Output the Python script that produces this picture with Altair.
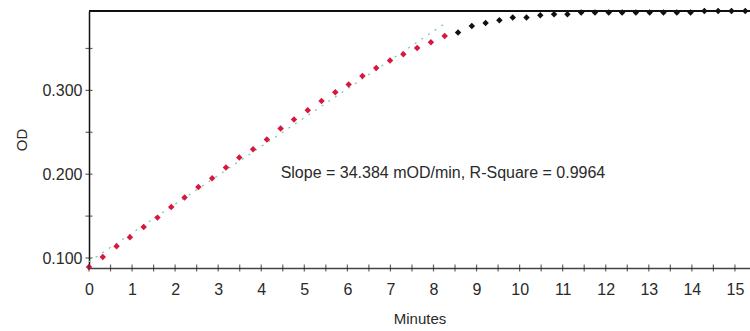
import altair as alt
import pandas as pd

# ---- data ----
minutes = [0.00, 0.32, 0.64, 0.95, 1.27, 1.59, 1.91, 2.22, 2.54, 2.86,
           3.18, 3.49, 3.81, 4.13, 4.45, 4.76, 5.08, 5.40, 5.72, 6.03,
           6.35, 6.67, 6.99, 7.30, 7.62, 7.94, 8.26, 8.57, 8.89, 9.21,
           9.53, 9.84, 10.16, 10.48, 10.80, 11.11, 11.43, 11.75, 12.07, 12.38,
           12.70, 13.02, 13.34, 13.65, 13.97, 14.29, 14.61, 14.92, 15.24]
od = [0.0893, 0.1012, 0.1140, 0.1247, 0.1370, 0.1482, 0.1609, 0.1721, 0.1847, 0.1951,
      0.2079, 0.2198, 0.2297, 0.2413, 0.2544, 0.2652, 0.2763, 0.2874, 0.2977, 0.3069,
      0.3172, 0.3267, 0.3356, 0.3431, 0.3506, 0.3574, 0.3649, 0.3690, 0.3768, 0.3804,
      0.3837, 0.3869, 0.3869, 0.3896, 0.3908, 0.3908, 0.3928, 0.3928, 0.3928, 0.3928,
      0.3928, 0.3928, 0.3928, 0.3928, 0.3928, 0.3947, 0.3947, 0.3947, 0.3947]
n_fit = 27  # points used in the linear fit (drawn red)

fit_minutes = [0.0, 8.26]
fit_od = [0.0955, 0.3795]

x_labels = list(range(0, 16))
x_ticks = [i * 0.5 for i in range(0, 31)]
y_labels = [0.1, 0.2, 0.3]
y_ticks = [0.10, 0.15, 0.20, 0.25, 0.30, 0.35]

annotation = "Slope = 34.384 mOD/min, R-Square = 0.9964"
ann_x, ann_y = 4.45, 0.2015

X_MIN, X_MAX = 0.0, 15.35
Y_MIN, Y_MAX = 0.0881, 0.3947

FONT = "Liberation Sans"
TXT = "#2a2a2a"

df = pd.DataFrame({"Minutes": minutes, "OD": od,
                   "phase": ["fit"] * n_fit + ["rest"] * (len(minutes) - n_fit)})
fit_df = pd.DataFrame({"Minutes": fit_minutes, "OD": fit_od})
xt_df = pd.DataFrame({"Minutes": x_ticks, "OD": [Y_MIN] * len(x_ticks)})
yt_df = pd.DataFrame({"Minutes": [X_MIN] * len(y_ticks), "OD": y_ticks})
ann_df = pd.DataFrame({"Minutes": [ann_x], "OD": [ann_y], "t": [annotation]})

xscale = alt.Scale(domain=[X_MIN, X_MAX], nice=False, zero=False)
yscale = alt.Scale(domain=[Y_MIN, Y_MAX], nice=False, zero=False)

xaxis = alt.Axis(values=x_labels, format="d", ticks=False, grid=False,
                 domainColor="#444444", domainWidth=1.5,
                 labelFont=FONT, labelFontSize=16, labelColor=TXT, labelPadding=13,
                 title="Minutes", titleFont=FONT, titleFontSize=15,
                 titleFontWeight="normal", titleColor=TXT, titlePadding=14,
                 labelFlush=False)
yaxis = alt.Axis(values=y_labels, format=".3f", ticks=False, grid=False,
                 domainColor="#111111", domainWidth=1.5,
                 labelFont=FONT, labelFontSize=16, labelColor=TXT, labelPadding=7,
                 title="OD", titleFont=FONT, titleFontSize=15,
                 titleFontWeight="normal", titleColor=TXT, titlePadding=12,
                 labelFlush=False)

X = alt.X("Minutes:Q", scale=xscale, axis=xaxis)
Y = alt.Y("OD:Q", scale=yscale, axis=yaxis)

top_border = alt.Chart(df).mark_rule(color="#111111", strokeWidth=1.5).encode(
    y=alt.datum(Y_MAX, scale=yscale))

fit_line = alt.Chart(fit_df).mark_line(
    color="#6cc8a8", strokeWidth=1.2, strokeDash=[2, 6]).encode(x=X, y=Y)

points = alt.Chart(df).mark_point(filled=True, shape="diamond", size=42, opacity=1).encode(
    x=X, y=Y,
    color=alt.Color("phase:N", scale=alt.Scale(domain=["fit", "rest"],
                                               range=["#d8163e", "#111111"]),
                    legend=None))

xt = alt.Chart(xt_df).mark_tick(orient="vertical", size=7, thickness=1.2,
                                color="#222222").encode(x=X, y=Y)
yt = alt.Chart(yt_df).mark_tick(orient="horizontal", size=7, thickness=1.2,
                                color="#222222").encode(x=X, y=Y)

text = alt.Chart(ann_df).mark_text(align="left", baseline="middle", font=FONT,
                                   fontSize=16, color=TXT).encode(
    x=X, y=Y, text="t:N")

chart = alt.layer(top_border, fit_line, points, xt, yt, text).properties(
    width=661, height=257,
    padding={"left": 89, "top": 11, "right": 0, "bottom": 63},
    autosize="none",
    background="white",
).configure_view(stroke=None)

chart.save("out.html", embed_options={"renderer": "svg", "actions": False})
